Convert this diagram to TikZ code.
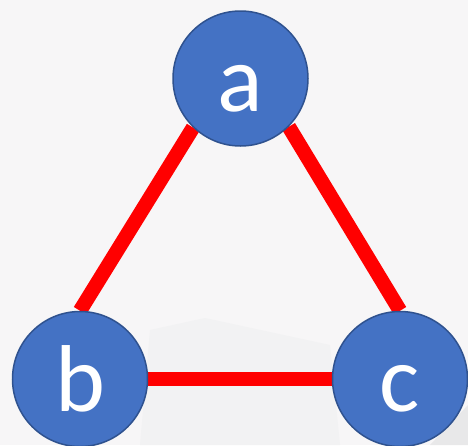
\documentclass[tikz,border=0pt]{standalone}
\usepackage{fontspec}
\setmainfont{Carlito}
\usetikzlibrary{backgrounds}
\definecolor{bgcol}{RGB}{247,246,247}
\definecolor{bgdark}{RGB}{242,242,243}
\definecolor{bgdarker}{RGB}{232,232,233}
\definecolor{nodefill}{RGB}{68,114,196}
\definecolor{nodeline}{RGB}{47,82,143}
\definecolor{edgered}{RGB}{255,0,0}
\tikzset{
  vertex/.style={circle, draw=nodeline, line width=1.5pt, fill=nodefill,
    minimum size=135pt, inner sep=0pt, text=white,
    text height=65pt, text depth=0pt,
    font=\fontsize{95}{95}\selectfont},
  edge/.style={draw=edgered, line width=14.5pt},
}
\begin{document}
\begin{tikzpicture}[x=1pt,y=-1pt]
\useasboundingbox (0,0) rectangle (468,445);
\node[vertex] (a) at (240.5,78.5) {a};
\node[vertex] (b) at (80,379) {b};
\node[vertex] (c) at (400,379) {c};
\begin{scope}[on background layer]
  \fill[bgcol] (0,0) rectangle (468,445);
  \fill[bgdark] (150,330) -- (205,318) -- (330,345) -- (340,445) -- (140,445) -- cycle;
  \fill[bgdarker] (468,405) -- (468,445) -- (430,445) -- cycle;
  \draw[edge] (a.226) -- (b.north);
  \draw[edge] (a.south east) -- (c.north);
  \draw[edge] (b.east) -- (c.west);
\end{scope}
\end{tikzpicture}
\end{document}
